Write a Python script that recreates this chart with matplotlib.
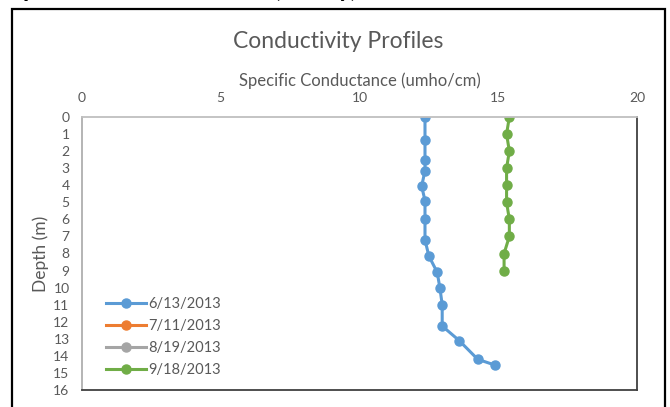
import matplotlib
matplotlib.use("Agg")
import matplotlib.pyplot as plt
from matplotlib.patches import Rectangle

plt.rcParams['font.family'] = ['Lato', 'DejaVu Sans']

# Data (depth in m, specific conductance in umho/cm)
depth_0613 = [0, 1.35, 2.5, 3.15, 4.05, 4.9, 6.0, 7.2, 8.15, 9.1, 10.05, 11.0, 12.25, 13.1, 14.2, 14.55]
cond_0613 = [12.36, 12.36, 12.36, 12.36, 12.24, 12.36, 12.36, 12.36, 12.5, 12.8, 12.9, 12.98, 12.98, 13.59, 14.26, 14.9]
depth_0711 = []
cond_0711 = []
depth_0819 = []
cond_0819 = []
depth_0918 = [0, 1, 2, 3, 4, 5, 6, 7, 8, 9]
cond_0918 = [15.4, 15.3, 15.4, 15.3, 15.3, 15.3, 15.4, 15.4, 15.21, 15.21]

labels = ['6/13/2013', '7/11/2013', '8/19/2013', '9/18/2013']
colors = ['#5B9BD5', '#ED7D31', '#A5A5A5', '#70AD47']
x_ticks = [0, 5, 10, 15, 20]
y_ticks = list(range(0, 17))

txt = '#595959'

fig = plt.figure(figsize=(6.7, 4.07), dpi=100)
ax = fig.add_axes([82/670, 1 - 390/407, (637-82)/670, (390-117)/407])

series = [(depth_0613, cond_0613), (depth_0711, cond_0711),
          (depth_0819, cond_0819), (depth_0918, cond_0918)]
for (d, c), lab, col in zip(series, labels, colors):
    ax.plot(c, d, '-o', color=col, lw=2.2, ms=6.5, label=lab)

ax.set_xlim(0, 20)
ax.set_ylim(16, 0)
ax.set_xticks(x_ticks)
ax.set_yticks(y_ticks)
ax.xaxis.tick_top()
ax.xaxis.set_label_position('top')
ax.tick_params(length=0, labelsize=10, colors=txt)
ax.tick_params(axis='x', pad=9)
ax.tick_params(axis='y', pad=9)
ax.set_xlabel('Specific Conductance (umho/cm)', fontsize=12, color=txt, labelpad=5)
ax.set_ylabel('Depth (m)', fontsize=12.5, color=txt, labelpad=3)

ax.spines['top'].set_color('#BFBFBF')
ax.spines['top'].set_linewidth(1.3)
ax.spines['left'].set_color('#A0A0A0')
ax.spines['left'].set_linewidth(1.1)
ax.spines['right'].set_color('#404040')
ax.spines['bottom'].set_color('#404040')
ax.spines['right'].set_linewidth(1.3)
ax.spines['bottom'].set_linewidth(1.3)

ax.legend(loc='lower left', bbox_to_anchor=(0.02, 0.0), frameon=False,
          fontsize=10.5, labelcolor=txt, handlelength=2.7, handletextpad=0.2,
          labelspacing=0.55)

fig.text(338/670, 1 - 42/407, 'Conductivity Profiles', fontsize=16.5,
         color=txt, ha='center', va='center')

# outer chart frame
fig.patches.append(Rectangle((12/670, -0.05), (665-12)/670, 1.05 - 9/407,
                             transform=fig.transFigure, fill=False,
                             edgecolor='black', lw=1.6))

# caption text cut off at the top of the screenshot
for xp, s in [(22, 'p'), (273, '('), (338, 'y)')]:
    fig.text(xp/670, 1 + 3/407, s, fontsize=18, fontweight='bold',
             color='black', ha='left', va='baseline')

fig.savefig('out.png', dpi=100)
